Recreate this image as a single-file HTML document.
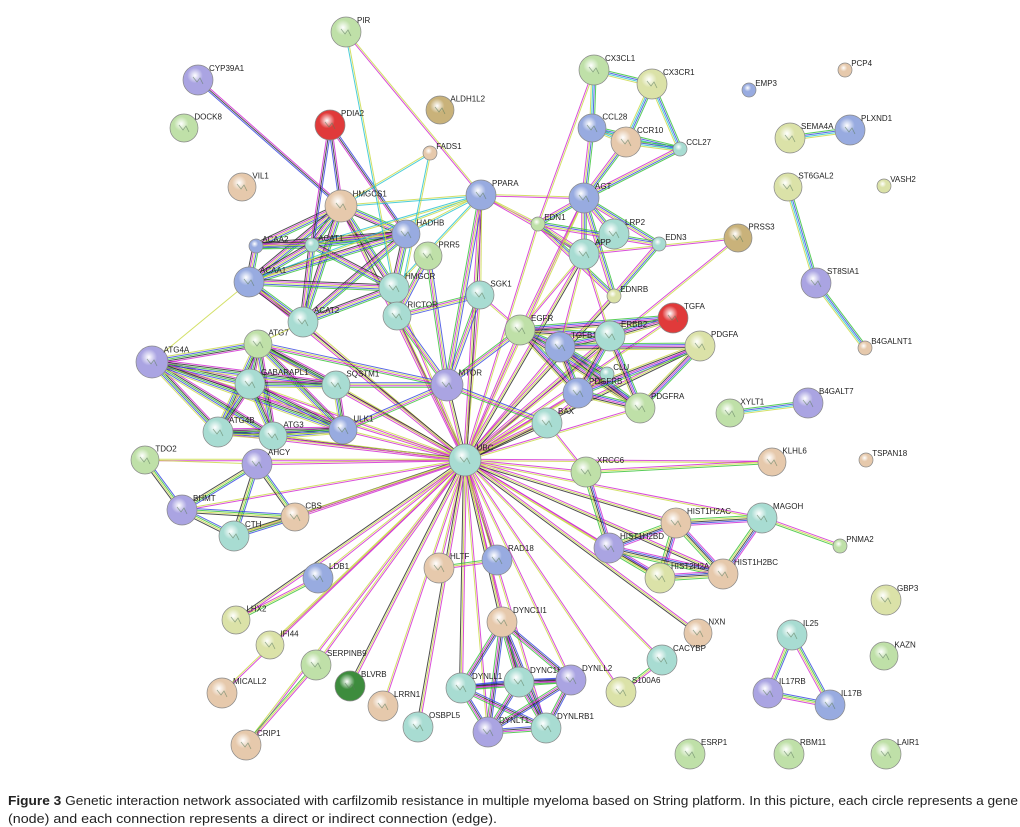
<!DOCTYPE html>
<html><head><meta charset="utf-8"><style>
html,body{margin:0;padding:0;background:#fff;}
svg{display:block;font-family:"Liberation Sans",sans-serif;}
</style></head><body>
<svg id="s" width="1020" height="827" viewBox="0 0 1020 827" xmlns="http://www.w3.org/2000/svg">
<defs id="d"></defs>
<g id="e"></g><g id="n"></g>
<text x="8" y="805" font-size="13" textLength="1010" lengthAdjust="spacingAndGlyphs" fill="#222"><tspan font-weight="bold">Figure 3</tspan> Genetic interaction network associated with carfilzomib resistance in multiple myeloma based on String platform. In this picture, each circle represents a gene</text>
<text x="8" y="823" font-size="13" textLength="489" lengthAdjust="spacingAndGlyphs" fill="#222">(node) and each connection represents a direct or indirect connection (edge).</text>
</svg>
<script>
var C={g:'#bfe0a8',b:'#98abe0',t:'#e6c9ac',c:'#a8dcd2',p:'#aaa4e2',y:'#dbe2a8',r:'#e03a3a',k:'#3d8c3d',o:'#c9b27a'};
var N={PIR:[346,32,15,'g'],CYP39A1:[198,80,15,'p'],DOCK8:[184,128,14,'g'],ALDH1L2:[440,110,14,'o'],PDIA2:[330,125,15,'r'],FADS1:[430,153,7,'t'],VIL1:[242,187,14,'t'],HMGCS1:[341,206,16,'t'],PPARA:[481,195,15,'b'],HADHB:[406,234,14,'b'],ACAA2:[256,246,7,'b'],ACAT1:[312,245,7,'c'],PRR5:[428,256,14,'g'],HMGCR:[394,288,15,'c'],ACAA1:[249,282,15,'b'],ACAT2:[303,322,15,'c'],RICTOR:[397,316,14,'c'],SGK1:[480,295,14,'c'],ATG7:[258,344,14,'g'],ATG4A:[152,362,16,'p'],GABARAPL1:[250,384,15,'c'],SQSTM1:[336,385,14,'c'],MTOR:[447,385,16,'p'],ULK1:[343,430,14,'b'],ATG4B:[218,432,15,'c'],ATG3:[273,436,14,'c'],AHCY:[257,464,15,'p'],TDO2:[145,460,14,'g'],UBC:[465,460,16,'c'],BHMT:[182,510,15,'p'],CBS:[295,517,14,'t'],CTH:[234,536,15,'c'],CX3CL1:[594,70,15,'g'],CX3CR1:[652,84,15,'y'],CCL28:[592,128,14,'b'],CCR10:[626,142,15,'t'],CCL27:[680,149,7,'c'],AGT:[584,198,15,'b'],EDN1:[538,224,7,'g'],LRP2:[614,234,15,'c'],APP:[584,254,15,'c'],EDN3:[659,244,7,'c'],PRSS3:[738,238,14,'o'],EDNRB:[614,296,7,'y'],EMP3:[749,90,7,'b'],PCP4:[845,70,7,'t'],SEMA4A:[790,138,15,'y'],PLXND1:[850,130,15,'b'],ST6GAL2:[788,187,14,'y'],VASH2:[884,186,7,'y'],ST8SIA1:[816,283,15,'p'],B4GALNT1:[865,348,7,'t'],TGFA:[673,318,15,'r'],EGFR:[520,330,15,'g'],TGFB1:[560,347,15,'b'],ERBB2:[610,336,15,'c'],PDGFA:[700,346,15,'y'],CLU:[607,374,7,'c'],PDGFRB:[578,393,15,'b'],PDGFRA:[640,408,15,'g'],BAX:[547,423,15,'c'],XYLT1:[730,413,14,'g'],B4GALT7:[808,403,15,'p'],KLHL6:[772,462,14,'t'],TSPAN18:[866,460,7,'t'],XRCC6:[586,472,15,'g'],MAGOH:[762,518,15,'c'],HIST1H2AC:[676,523,15,'t'],HIST1H2BD:[609,548,15,'p'],HIST2H2AA3:[660,578,15,'y'],HIST1H2BC:[723,574,15,'t'],PNMA2:[840,546,7,'g'],RAD18:[497,560,15,'b'],HLTF:[439,568,15,'t'],LDB1:[318,578,15,'b'],LHX2:[236,620,14,'y'],IFI44:[270,645,14,'y'],GBP3:[886,600,15,'y'],NXN:[698,633,14,'t'],CACYBP:[662,660,15,'c'],DYNC1I1:[502,622,15,'t'],IL25:[792,635,15,'c'],KAZN:[884,656,14,'g'],SERPINB9:[316,665,15,'g'],BLVRB:[350,686,15,'k'],MICALL2:[222,693,15,'t'],LRRN1:[383,706,15,'t'],DYNLL1:[461,688,15,'c'],DYNC1H1:[519,682,15,'c'],DYNLL2:[571,680,15,'p'],S100A6:[621,692,15,'y'],IL17RB:[768,693,15,'p'],IL17B:[830,705,15,'b'],OSBPL5:[418,727,15,'c'],DYNLT1:[488,732,15,'p'],DYNLRB1:[546,728,15,'c'],CRIP1:[246,745,15,'t'],ESRP1:[690,754,15,'g'],RBM11:[789,754,15,'g'],LAIR1:[886,754,15,'g']};
var M='#d020d0',Y='#c8d840',G='#30c030',B='#3040e0',K='#222',Cy='#20c0d0',P='#8050c0';
var E=[];
function add(list,cols){list.split(' ').forEach(function(p){var a=p.split('-');E.push([a[0],a[1],cols]);});}
['MTOR','ULK1','SQSTM1','ATG7','ATG4A','GABARAPL1','ATG4B','ATG3','AHCY','HMGCS1','HMGCR','ACAT2','ACAA1','RICTOR','SGK1','PPARA','EGFR','TGFB1','ERBB2','PDGFRB','PDGFRA','BAX','XRCC6','CLU','APP','AGT','EDN1','HIST1H2AC','HIST1H2BD','HIST2H2AA3','HIST1H2BC','MAGOH','KLHL6','RAD18','HLTF','LDB1','LHX2','IFI44','SERPINB9','BLVRB','MICALL2','LRRN1','DYNLL1','DYNC1H1','DYNLL2','DYNC1I1','DYNLT1','DYNLRB1','OSBPL5','S100A6','CACYBP','NXN','CRIP1','TDO2','CBS','BHMT','CTH','PDGFA','TGFA','PRSS3','EDNRB'].forEach(function(x,i){E.push(['UBC',x,i%3==0?[M,Y,K]:[M,Y]]);});
add('HMGCS1-HADHB HMGCS1-ACAT1 HMGCS1-ACAA2 HMGCS1-ACAT2 HMGCS1-HMGCR HMGCS1-ACAA1 HADHB-ACAT1 HADHB-ACAA2 HADHB-ACAA1 HADHB-ACAT2 ACAT1-ACAA2 ACAT1-ACAA1 ACAT1-ACAT2 ACAA1-ACAT2 ACAA2-ACAA1 HMGCR-ACAT2 HMGCR-ACAT1 HMGCR-ACAA1 HADHB-HMGCR',[G,B,Y,M,K]);
add('HMGCS1-CYP39A1 HMGCS1-PDIA2 PDIA2-HADHB PDIA2-ACAT1',[B,K,M]);
add('HMGCS1-FADS1 HMGCS1-PPARA PPARA-ACAA1 PPARA-HMGCR HADHB-PPARA PIR-HMGCR PPARA-ACAT1 FADS1-RICTOR',[Y,Cy]);
add('MTOR-RICTOR MTOR-ULK1 MTOR-SGK1 MTOR-PRR5 RICTOR-PRR5 RICTOR-SGK1 MTOR-SQSTM1 MTOR-PPARA MTOR-EGFR BAX-MTOR MTOR-ATG7',[G,M,Y,B]);
add('ATG7-ATG4A ATG7-GABARAPL1 ATG7-ATG3 ATG7-ATG4B ATG7-ULK1 ATG7-SQSTM1 ATG4A-GABARAPL1 ATG4A-ATG4B ATG4A-ATG3 ATG4A-SQSTM1 ATG4A-ULK1 GABARAPL1-ATG4B GABARAPL1-ATG3 GABARAPL1-SQSTM1 GABARAPL1-ULK1 ATG4B-ATG3 ATG3-ULK1 SQSTM1-ULK1 ATG4B-ULK1',[M,K,G,B,Y]);
add('AHCY-BHMT AHCY-CBS AHCY-CTH BHMT-CTH BHMT-CBS CBS-CTH TDO2-BHMT',[B,G,Y,K]);
add('TDO2-AHCY ATG4A-ACAA1 ATG7-ACAT2',[Y]);
add('CX3CL1-CX3CR1 CCL28-CCR10 CCL28-CCL27 CCR10-CCL27 CX3CR1-CCL27 CX3CR1-CCR10 CX3CL1-CCL28',[G,B,Cy,Y]);
add('AGT-EDN1 AGT-APP AGT-LRP2 AGT-EDN3 AGT-EDNRB EDN1-EDN3 EDN1-EDNRB EDN3-EDNRB APP-LRP2 APP-EDN1 CCL28-AGT CCR10-AGT CCL27-AGT',[G,B,Y,M]);
add('APP-PRSS3 PPARA-AGT PPARA-EDN1 PPARA-APP EGFR-APP CX3CL1-EDN1 PIR-PPARA PPARA-SGK1',[Y,M]);
add('EGFR-TGFB1 EGFR-ERBB2 EGFR-TGFA EGFR-PDGFRB EGFR-PDGFRA TGFB1-ERBB2 TGFB1-PDGFA TGFB1-CLU TGFB1-PDGFRB TGFB1-PDGFRA ERBB2-TGFA ERBB2-PDGFRB PDGFA-PDGFRB PDGFA-PDGFRA PDGFRB-PDGFRA ERBB2-PDGFRA',[G,B,M,K,Y]);
add('BAX-CLU BAX-XRCC6 TGFB1-APP EGFR-AGT ERBB2-APP SGK1-EGFR',[M,Y]);
add('HIST1H2AC-HIST1H2BD HIST1H2AC-HIST2H2AA3 HIST1H2AC-HIST1H2BC HIST1H2BD-HIST2H2AA3 HIST1H2BD-HIST1H2BC HIST2H2AA3-HIST1H2BC MAGOH-HIST1H2AC XRCC6-HIST1H2BD MAGOH-HIST1H2BC',[M,B,K,Y,G]);
add('MAGOH-PNMA2 XRCC6-KLHL6 RAD18-HLTF CACYBP-S100A6 LHX2-LDB1 SERPINB9-CRIP1',[M,Y,G]);
add('DYNC1I1-DYNLL1 DYNC1I1-DYNC1H1 DYNC1I1-DYNLL2 DYNC1I1-DYNLT1 DYNC1I1-DYNLRB1 DYNLL1-DYNC1H1 DYNLL1-DYNLL2 DYNLL1-DYNLT1 DYNLL1-DYNLRB1 DYNC1H1-DYNLL2 DYNC1H1-DYNLT1 DYNC1H1-DYNLRB1 DYNLL2-DYNLT1 DYNLL2-DYNLRB1 DYNLT1-DYNLRB1',[B,K,M,G]);
add('IL25-IL17RB IL25-IL17B IL17RB-IL17B',[B,G,Y,M]);
add('SEMA4A-PLXND1 ST6GAL2-ST8SIA1 ST8SIA1-B4GALNT1 XYLT1-B4GALT7',[G,B,Cy,Y]);
var ns='http://www.w3.org/2000/svg';
function el(t,a,p){var e=document.createElementNS(ns,t);for(var k in a)e.setAttribute(k,a[k]);p.appendChild(e);return e;}
var d=document.getElementById('d'),ge=document.getElementById('e'),gn=document.getElementById('n');
for(var k in C){var rg=el('radialGradient',{id:'g'+k,cx:'0.4',cy:'0.35',r:'0.65'},d);
el('stop',{offset:'0','stop-color':'#ffffff'},rg);el('stop',{offset:'0.4','stop-color':C[k]},rg);el('stop',{offset:'1','stop-color':C[k],'stop-opacity':'1'},rg);}
E.forEach(function(x){var a=N[x[0]],b=N[x[1]];if(!a||!b)return;var dx=b[0]-a[0],dy=b[1]-a[1],L=Math.hypot(dx,dy)||1,nx=-dy/L,ny=dx/L,n=x[2].length;
x[2].forEach(function(c,i){var o=(i-(n-1)/2)*1.5;el('line',{x1:a[0]+nx*o,y1:a[1]+ny*o,x2:b[0]+nx*o,y2:b[1]+ny*o,stroke:c,'stroke-width':1,'stroke-opacity':0.8},ge);});});
for(var k in N){var v=N[k];el('circle',{cx:v[0],cy:v[1],r:v[2],fill:'url(#g'+v[3]+')',stroke:'#888','stroke-width':0.7},gn);
if(v[2]>10){el('path',{d:'M'+(v[0]-5)+' '+(v[1]-3)+'l4 5l3-4l3 6',stroke:'#5a7a5a','stroke-width':0.8,fill:'none',opacity:0.6},gn);}
var t=el('text',{x:v[0]+v[2]*0.6+2,y:v[1]-v[2]*0.6,'font-size':8,fill:'#222'},gn);t.textContent=k;}
</script>
</body></html>
